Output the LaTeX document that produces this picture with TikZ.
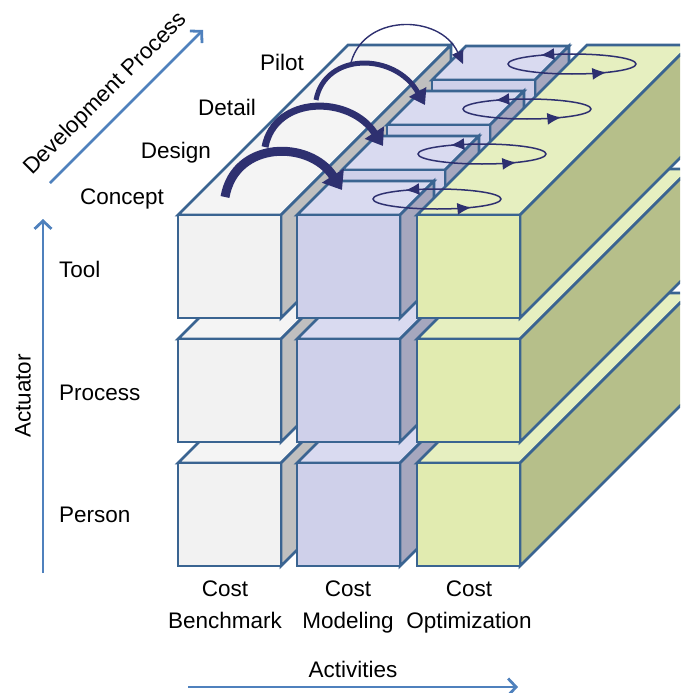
\documentclass[tikz,border=0pt]{standalone}
\usepackage{fontspec}
\setmainfont{Liberation Sans}
\usetikzlibrary{positioning}
\usetikzlibrary{arrows.meta}
\usetikzlibrary{decorations.markings}

\definecolor{edgeblue}{HTML}{3A6491}
\definecolor{axisblue}{HTML}{4F81BD}
\definecolor{darknavy}{HTML}{2E3070}
\definecolor{wfront}{HTML}{F2F2F2}
\definecolor{wtop}{HTML}{F4F4F4}
\definecolor{wside}{HTML}{BFBFBF}
\definecolor{pfront}{HTML}{CFD0EA}
\definecolor{ptop}{HTML}{D9DAF0}
\definecolor{pside}{HTML}{A6A7BE}
\definecolor{gfront}{HTML}{E1EBB0}
\definecolor{gtop}{HTML}{E6EFC0}
\definecolor{gside}{HTML}{B6BF8A}

% cuboid: front top-left corner x, y, depth, colour prefix (w/p/g)
\newcommand{\cuboid}[4]{%
  \filldraw[blockface, fill=#4top] (#1,#2) -- ++(#3,#3) -- ++(103,0) -- ++(-#3,-#3) -- cycle;
  \filldraw[blockface, fill=#4side] (#1+103,#2) -- ++(#3,#3) -- ++(0,-103) -- ++(-#3,-#3) -- cycle;
  \filldraw[blockface, fill=#4front] (#1,#2) rectangle ++(103,-103);
}

\begin{document}
\begin{tikzpicture}[x=1pt, y=1pt,
    blockface/.style={draw=edgeblue, line width=2.8pt},
    lab/.style={font=\fontsize{22.5}{32}\selectfont, inner sep=0pt},
    axisarrow/.style={draw=axisblue, line width=2.8pt, -{Straight Barb[length=8pt,width=17pt]}},
    rotarrow/.style={color=darknavy, line width=1.5pt, postaction={decorate},
      decoration={markings,
        mark=at position 0.37 with {\arrow{Latex[length=14pt,width=12pt]}},
        mark=at position 0.88 with {\arrow{Latex[length=14pt,width=12pt]}}}},
    jump/.style={draw=darknavy}]
    \clip (0,0) rectangle (680,-693);

    % lower two rows, back to front
    \foreach \yt in {-463,-339}{
      \cuboid{178}{\yt}{170}{w}
      \cuboid{297}{\yt}{170}{p}
      \cuboid{417}{\yt}{170}{g}
    }
    % top row, modeling split into four stages
    \cuboid{178}{-215}{170}{w}
    \foreach \i in {3,2,1,0}{\cuboid{297+45*\i}{-215+45*\i}{34}{p}}
    \cuboid{417}{-215}{170}{g}

    % iteration loops on each stage
    \foreach \i in {0,...,3}
      \draw[rotarrow] (437+45*\i,-199+45*\i) ellipse [x radius=64, y radius=10];

    % stage transfers
    \coordinate (c0) at (225,-197); \coordinate (m0) at (342,-190);
    \coordinate (c1) at (265,-147); \coordinate (m1) at (383,-146);
    \coordinate (c2) at (316,-100); \coordinate (m2) at (425,-105);
    \coordinate (c3) at (350,-67);  \coordinate (m3) at (463,-64);
    \draw[jump, line width=9pt, -{Triangle[length=17pt,width=25pt]}] (c0) .. controls +(10,57) and +(-32,50) .. (m0);
    \draw[jump, line width=7pt, -{Triangle[length=16pt,width=22pt]}] (c1) .. controls +(10,52) and +(-33,51) .. (m1);
    \draw[jump, line width=5pt, -{Triangle[length=15pt,width=19pt]}] (c2) .. controls +(9,48) and +(-30,53) .. (m2);
    \draw[jump, line width=1.4pt, -{Triangle[length=13pt,width=12pt]}] (c3) .. controls +(10,54) and +(-23,51) .. (m3);

    % axes
    \coordinate (act0) at (43,-573);  \coordinate (act1) at (43,-219);
    \coordinate (dev0) at (50,-183);  \coordinate (dev1) at (203,-30);
    \coordinate (acv0) at (188,-687); \coordinate (acv1) at (518,-687);
    \draw[axisarrow] (act0) -- (act1);
    \draw[axisarrow] (dev0) -- (dev1);
    \draw[axisarrow] (acv0) -- (acv1);

    \node[lab, rotate=90] (actuator) at (23,-396) {Actuator};
    \node[lab, rotate=45] (devproc) at (106,-94) {Development Process};
    \node[lab] (activities) at (353,-669) {Activities};

    \node[lab] (concept) at (122,-199) {Concept};
    \node[lab] (design) at (176,-153) {Design};
    \node[lab] (detail) at (227,-107) {Detail};
    \node[lab] (pilot) at (282,-62) {Pilot};

    \node[lab, anchor=west] (tool) at (59,-269) {Tool};
    \node[lab, anchor=west] (process) at (59,-393) {Process};
    \node[lab, anchor=west] (person) at (59,-515) {Person};

    \node[lab, align=center, anchor=north] (bench) at (225,-581) {Cost\\Benchmark};
    \node[lab, align=center, anchor=north] (model) at (348,-581) {Cost\\Modeling};
    \node[lab, align=center, anchor=north] (optim) at (469,-581) {Cost\\Optimization};
\end{tikzpicture}
\end{document}
